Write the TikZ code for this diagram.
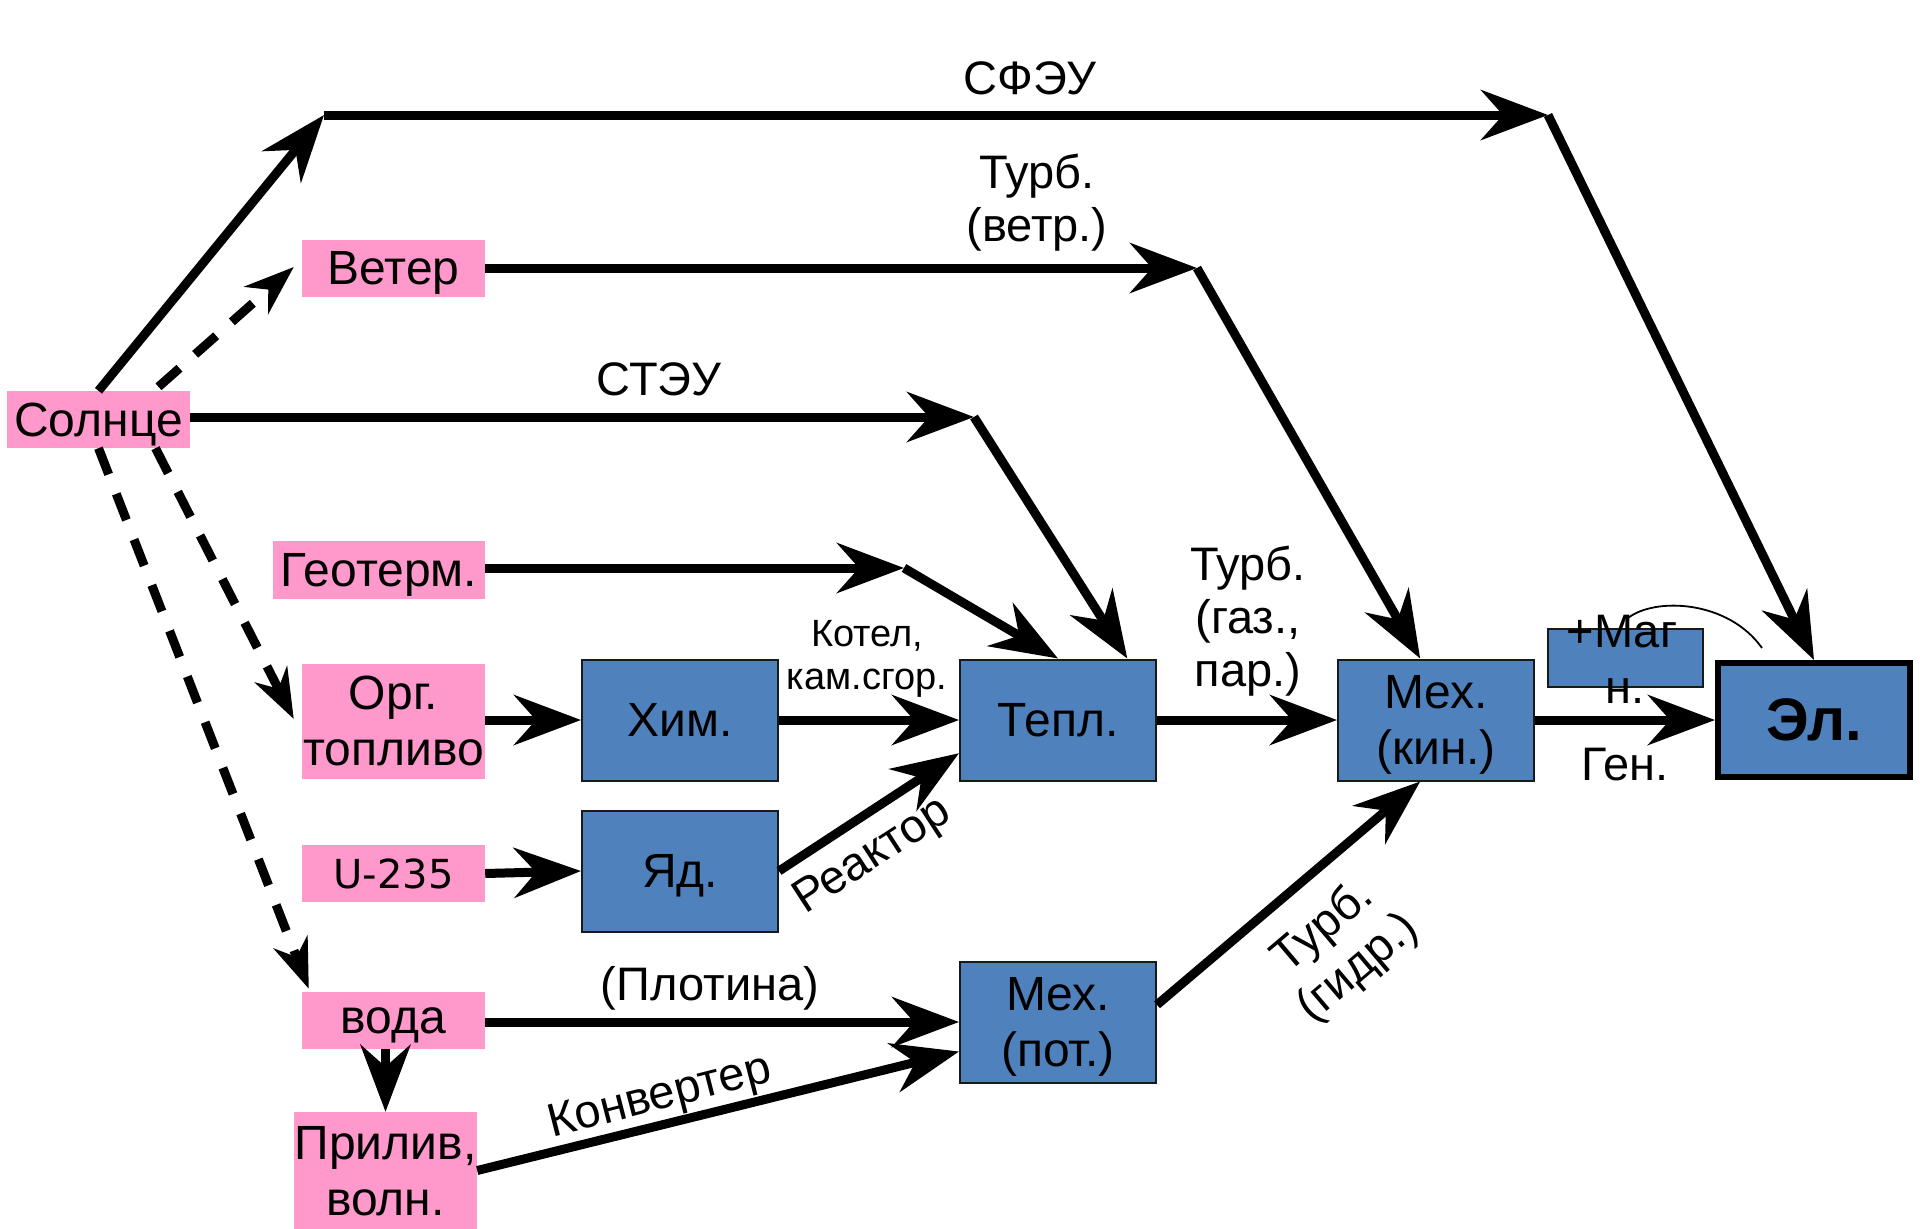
\documentclass[tikz,border=0pt]{standalone}
\usepackage{fontspec}
\setmainfont{Liberation Sans}
\newfontfamily\dejavu{DejaVu Sans}
\usetikzlibrary{arrows.meta,calc}
\definecolor{srcpink}{RGB}{255,153,204}
\definecolor{blkblue}{RGB}{79,129,189}
\begin{document}
\begin{tikzpicture}[x=1pt,y=-1pt,
  big/.style={font=\fontsize{48}{56}\selectfont},
  src/.style={big, fill=srcpink, inner sep=0pt, align=center, text depth=0pt, minimum width=183pt, minimum height=57pt},
  blk/.style={big, fill=blkblue, draw=black!90, line width=2pt, inner sep=0pt, align=center, text depth=0pt, minimum width=196pt, minimum height=121pt},
  lbl/.style={font=\fontsize{47}{53}\selectfont, align=center, inner sep=0pt},
  smalllbl/.style={font=\fontsize{38}{43}\selectfont, align=center, inner sep=0pt},
  flow/.style={line width=9pt, -{Stealth[length=67pt,width=50pt,inset=22pt]}},
  dflow/.style={line width=9pt, dash pattern=on 28pt off 21pt, -{Stealth[length=50pt,width=36pt,inset=16pt]}},
]
\useasboundingbox (0,0) rectangle (1920,1229);
\fill[white] (0,0) rectangle (1920,1229);

% source nodes
\node[src] (sun) at (98.5,419.5) {Солнце};
\node[src] (wind) at (393.5,268) {Ветер};
\node[src, minimum width=212pt, minimum height=58pt] (geo) at (379,570) {Геотерм.};
\node[src, minimum height=115pt] (org) at (393.5,721) {Орг.\\топливо};
\node[src, font=\dejavu\fontsize{40}{48}\selectfont] (uran) at (393.5,873.5) {U-235};
\node[src] (voda) at (393.5,1020.5) {вода};
\node[src, minimum height=117pt] (pril) at (385.5,1170.5) {Прилив,\\волн.};

% blocks
\node[blk] (him) at (680,720) {Хим.};
\node[blk] (yad) at (680,871) {Яд.};
\node[blk] (tepl) at (1058,720) {Тепл.};
\node[blk] (mkin) at (1436,720) {Мех.\\(кин.)};
\node[blk] (mpot) at (1058,1022) {Мех.\\(пот.)};
\node[blk, minimum width=192pt, minimum height=114pt, line width=6pt, draw=black,
      font=\bfseries\fontsize{60}{66}\selectfont] (el) at (1814,720) {Эл.};
\node[blk, minimum width=155pt, minimum height=58pt] (magbox) at (1625.5,658) {};

% corner points
\coordinate (c1) at (324,115);
\coordinate (c2) at (1548,115);
\coordinate (c3) at (1197,268);
\coordinate (c4) at (974,417);
\coordinate (c5) at (904,568);

% solid flows
\draw[flow] (sun.north) -- (c1);
\draw[flow] (c1) -- (c2);
\draw[flow] (c2) -- (el.north);
\draw[flow] (wind.east) -- (c3);
\draw[flow] (c3) -- ($(mkin.north west)!0.42!(mkin.north east)$);
\draw[flow] (sun.east |- c4) -- (c4);
\draw[flow] (c4) -- ($(tepl.north west)!0.85!(tepl.north east)$);
\draw[flow] (geo.east |- c5) -- (c5);
\draw[flow] (c5) -- (tepl.north);
\draw[flow] (org.east |- him.west) -- (him.west);
\draw[flow] (uran.east) -- (yad.west);
\draw[flow] (him.east) -- (tepl.west);
\draw[flow] (yad.east) -- ($(tepl.north west)!0.77!(tepl.south west)$);
\draw[flow] (tepl.east) -- (mkin.west);
\draw[flow] (mkin.east) -- (el.west);
\draw[flow] ($(mpot.north east)!0.36!(mpot.south east)$) -- ($(mkin.south west)!0.42!(mkin.south east)$);
\draw[flow] (voda.east |- mpot.west) -- (mpot.west);
\draw[flow] (pril.east) -- ($(mpot.north west)!0.74!(mpot.south west)$);
\draw[flow] (pril.north |- voda.south) -- (pril.north);

% dashed flows
\draw[dflow] ($(sun.north)+(60,-4)$) -- ($(wind.west)+(-8,-1)$);
\draw[dflow] ($(sun.south)+(57,0)$) -- ($(org.west)+(-8,-2)$);
\draw[dflow] (sun.south) -- ($(voda.north west)+(7,-3)$);

% thin arc
\coordinate (a1) at (1628,618);
\coordinate (a2) at (1762,648);
\draw[line width=1.8pt] (a1) .. controls (1655,597) and (1728,600) .. (a2);

% labels
\node[lbl, anchor=base] (lsfeu) at (1030,94) {СФЭУ};
\node[lbl] (lturbw) at (1037,203) {Турб.\\(ветр.)};
\node[lbl, anchor=base] (lsteu) at (659,395) {СТЭУ};
\node[smalllbl] (lkotel) at (867,659) {Котел,\\кам.сгор.};
\node[lbl, font=\fontsize{47}{53}\selectfont] (lturbg) at (1248,621) {Турб.\\(газ.,\\пар.)};
\node[lbl, anchor=base] (lplot) at (710,1000) {(Плотина)};
\node[lbl, rotate=14.4] (lconv) at (660,1098) {Конвертер};
\node[lbl, rotate=33] (lreakt) at (873,857) {Реактор};
\node[lbl, rotate=40.3] (lturbh) at (1341,948) {Турб.\\(гидр.)};
\node[lbl, anchor=base] (lmag1) at (1622,647) {+Маг};
\node[lbl, anchor=base] (lmag2) at (1625,703) {н.};
\node[lbl, anchor=base] (lgen) at (1625,780) {Ген.};
\end{tikzpicture}
\end{document}
